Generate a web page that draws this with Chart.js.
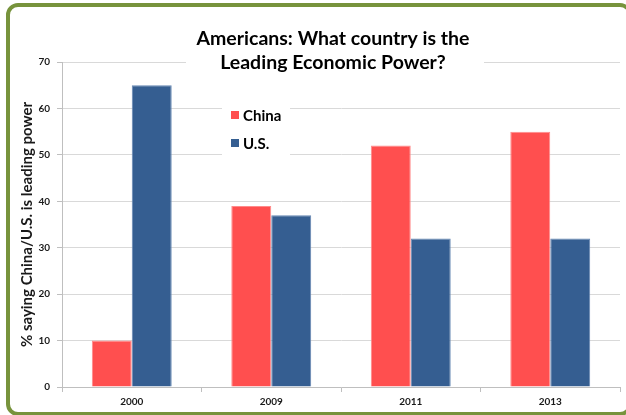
<!DOCTYPE html>
<html>
<head>
<meta charset="utf-8">
<script src="https://cdn.jsdelivr.net/npm/chart.js@4/dist/chart.umd.min.js"></script>
<style>
  html, body { margin: 0; padding: 0; background: #fff; }
  #wrap { position: relative; width: 626px; height: 415px; overflow: hidden; background: #fff; }
  #frame { position: absolute; left: 6px; top: 3px; width: 626px; height: 413px; box-sizing: border-box;
           border: 4px solid #77933C; border-radius: 12px; pointer-events: none; }
  canvas { position: absolute; left: 0; top: 0; }
</style>
</head>
<body>
<div id="wrap">
  <canvas id="c" width="626" height="415"></canvas>
  <div id="frame"></div>
</div>
<script>
const categories = ['2000', '2009', '2011', '2013'];
const chinaValues = [10, 39, 52, 55];
const usValues = [65, 37, 32, 32];
const seriesNames = ['China', 'U.S.'];
const titleLines = ['Americans: What country is the', 'Leading Economic Power?'];
const yAxisTitle = '% saying China/U.S. is leading power';
const yMin = 0, yMax = 70, yStep = 10;

const RED = '#FF4F4F';
const BLUE = '#355E91';
const FONT = 'Lato, "Open Sans", sans-serif';

const overlay = {
  id: 'overlay',
  beforeDatasetsDraw(chart) {
    const ctx = chart.ctx;
    ctx.save();
    // title
    ctx.fillStyle = '#fff';
    ctx.fillRect(186, 22, 298, 54);
    ctx.fillStyle = '#000';
    ctx.font = 'bold 19.5px ' + FONT;
    ctx.textAlign = 'center';
    ctx.textBaseline = 'middle';
    titleLines.forEach((t, i) => ctx.fillText(t, 333, 39 + i * 24));
    // legend
    ctx.fillStyle = '#fff';
    ctx.fillRect(222, 98, 68, 62);
    ctx.font = 'bold 15px ' + FONT;
    ctx.textAlign = 'left';
    chart.data.datasets.forEach((ds, i) => {
      const cy = 115 + i * 28;
      ctx.fillStyle = ds.backgroundColor;
      ctx.fillRect(231, cy - 4, 8, 8);
      ctx.fillStyle = '#000';
      ctx.fillText(ds.label, 243, cy + 1);
    });
    ctx.restore();
  }
};

new Chart(document.getElementById('c'), {
  type: 'bar',
  data: {
    labels: categories,
    datasets: [
      { label: seriesNames[0], data: chinaValues, backgroundColor: RED, borderColor: '#FF8A8A', borderWidth: 1 },
      { label: seriesNames[1], data: usValues, backgroundColor: BLUE, borderColor: '#6587B3', borderWidth: 1 }
    ]
  },
  options: {
    responsive: false,
    animation: false,
    events: [],
    datasets: { bar: { categoryPercentage: 0.573, barPercentage: 1.0 } },
    layout: { padding: { left: 15, top: 62, right: 6, bottom: 6 } },
    plugins: { legend: { display: false }, title: { display: false }, tooltip: { enabled: false } },
    scales: {
      x: {
        grid: { display: true, drawOnChartArea: false, offset: true, tickLength: 5, color: '#BFBFBF' },
        border: { color: '#BFBFBF', width: 1 },
        ticks: { color: '#1a1a1a', font: { family: FONT, size: 10, weight: 'bold' }, padding: 4 },
        afterFit(s) { s.height = 22; }
      },
      y: {
        min: yMin, max: yMax,
        ticks: { stepSize: yStep, color: '#1a1a1a', font: { family: FONT, size: 10, weight: 'bold' }, padding: 7 },
        grid: { color: '#D9D9D9', lineWidth: 1, tickLength: 5, tickColor: '#BFBFBF' },
        border: { color: '#BFBFBF', width: 1 },
        title: { display: true, text: yAxisTitle, color: '#1a1a1a', font: { family: FONT, size: 15, weight: 'bold' }, padding: { top: 3, bottom: 0 } },
        afterFit(s) { s.width = 47; }
      }
    }
  },
  plugins: [overlay]
});
</script>
</body>
</html>
